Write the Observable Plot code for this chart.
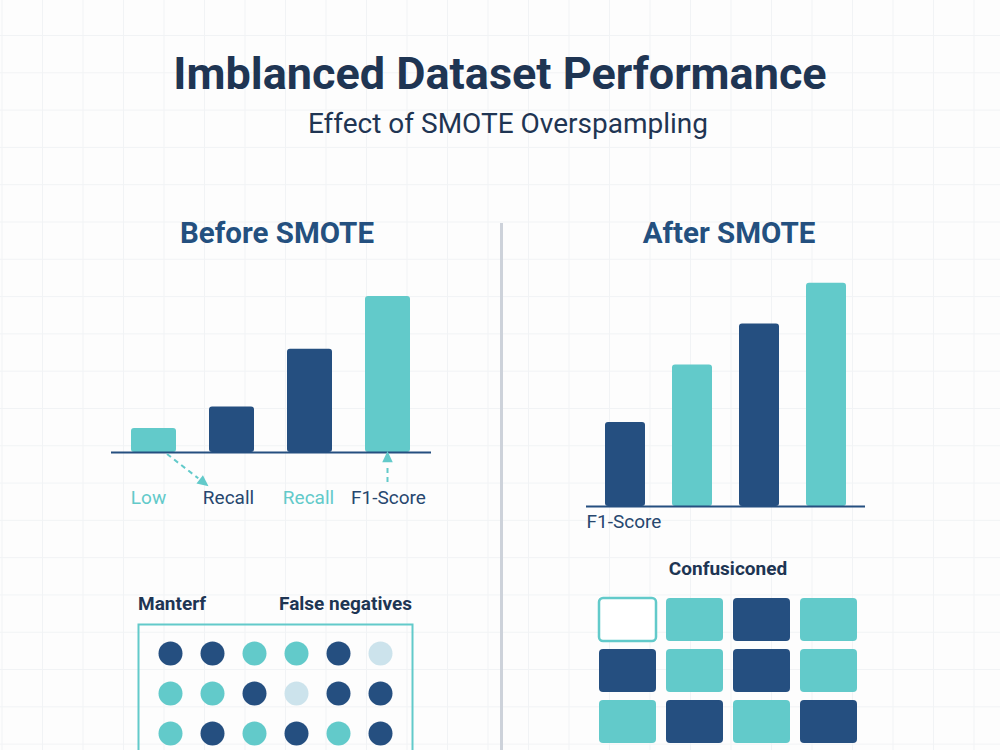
<!DOCTYPE html>
<html>
<head>
<meta charset="utf-8">
<script src="https://cdn.jsdelivr.net/npm/d3@7"></script>
<script src="https://cdn.jsdelivr.net/npm/@observablehq/plot@0.6"></script>
<style>
  html, body { margin: 0; padding: 0; width: 1000px; height: 750px; overflow: hidden; background: #fdfdfd; }
  #page {
    position: relative; width: 1000px; height: 750px; overflow: hidden;
    font-family: Roboto, "Open Sans", sans-serif;
    background-color: #fdfdfd;
    background-image:
      linear-gradient(to right, #f1f3f5 1px, transparent 1px),
      linear-gradient(to bottom, #f1f3f5 1px, transparent 1px);
    background-size: 40.5px 37.3px;
    background-position: 1.5px -2.3px;
  }
  .abs { position: absolute; }
  .title { left: 0; width: 1000px; text-align: center; top: 48px; line-height: 52px; font-size: 45px; font-weight: 700; color: #1f3553; }
  .subtitle { left: 8px; width: 1000px; text-align: center; top: 108px; line-height: 32px; font-size: 28px; font-weight: 400; color: #1f3553; }
  .panel { width: 460px; text-align: center; line-height: 36px; top: 215px; font-size: 29.5px; font-weight: 700; color: #24507f; }
  .small { line-height: 24px; font-size: 19px; font-weight: 700; color: #1e3553; }
  .divider { left: 500px; top: 223px; width: 3px; height: 530px; background: #cdd2da; }
  svg { display: block; }
</style>
</head>
<body>
<div id="page"></div>
<script>
// ---------- data ----------
const titleText = "Imblanced Dataset Performance";
const subtitleText = "Effect of SMOTE Overspampling";
const beforeTitle = "Before SMOTE";
const afterTitle = "After SMOTE";

const beforeKeys = ["b1", "b2", "b3", "b4"];
const beforeLabels = ["Low", "Recall", "Recall", "F1-Score"];
const beforeValues = [0.10, 0.19, 0.43, 0.65];
const beforeBarGroups = ["accent", "primary", "primary", "accent"];
const beforeLabelGroups = ["accent", "primary", "accent", "primary"];

const afterKeys = ["a1", "a2", "a3", "a4"];
const afterValues = [0.35, 0.59, 0.76, 0.93];
const afterBarGroups = ["primary", "accent", "primary", "accent"];
const afterAxisLabel = "F1-Score";

const dotsLeftHeader = "Manterf";
const dotsRightHeader = "False negatives";
const dotRows = [
  ["primary", "primary", "accent", "accent", "primary", "muted"],
  ["accent", "accent", "primary", "muted", "primary", "primary"],
  ["accent", "primary", "accent", "primary", "accent", "primary"]
];

const confusionTitle = "Confusiconed";
const confusionRows = [
  ["empty", "accent", "primary", "accent"],
  ["primary", "accent", "primary", "accent"],
  ["accent", "primary", "accent", "primary"]
];

// ---------- styles ----------
const NAVY = "#254f80";
const TEAL = "#62caca";
const LIGHT = "#cce3ec";
const LABEL_NAVY = "#27476f";
const colorScale = { type: "ordinal", domain: ["primary", "accent", "muted", "empty"], range: [NAVY, TEAL, LIGHT, "#ffffff"] };
const labelColor = { type: "ordinal", domain: ["primary", "accent"], range: [LABEL_NAVY, TEAL] };

const page = document.getElementById("page");
function addDiv(cls, text, style) {
  const d = document.createElement("div");
  d.className = "abs " + cls;
  d.textContent = text;
  Object.assign(d.style, style || {});
  page.appendChild(d);
  return d;
}
function place(node, left, top) {
  const w = document.createElement("div");
  w.className = "abs";
  w.style.left = left + "px";
  w.style.top = top + "px";
  w.appendChild(node);
  page.appendChild(w);
}

addDiv("title", titleText);
addDiv("subtitle", subtitleText);
addDiv("panel", beforeTitle, { left: "47px" });
addDiv("panel", afterTitle, { left: "499px" });
addDiv("divider", "");

// ---------- Before SMOTE bars ----------
const before = beforeKeys.map((k, i) => ({
  key: k, label: beforeLabels[i], value: beforeValues[i], bar: beforeBarGroups[i], lab: beforeLabelGroups[i]
}));

function arrowHead(g, x, y, angle, color) {
  const s = 7;
  const pts = [[s, 0], [-s * 0.6, -s * 0.75], [-s * 0.6, s * 0.75]].map(([px, py]) => [
    x + px * Math.cos(angle) - py * Math.sin(angle),
    y + px * Math.sin(angle) + py * Math.cos(angle)
  ]);
  g.append("polygon").attr("points", pts.map(p => p.join(",")).join(" ")).attr("fill", color);
}

function annotationArrows(index, scales) {
  const xs = scales.x, ys = scales.y;
  const bw = xs.bandwidth ? xs.bandwidth() : 0;
  const g = d3.create("svg:g");
  // arrow from the "Low" bar down to the "Recall" label
  const x1 = xs(beforeKeys[0]) + bw * 0.8, y1 = ys(0) + 2;
  const x2 = xs(beforeKeys[1]) - 6, y2 = ys(-0.125);
  const a1 = Math.atan2(y2 - y1, x2 - x1);
  g.append("line").attr("x1", x1).attr("y1", y1)
    .attr("x2", x2 - 6 * Math.cos(a1)).attr("y2", y2 - 6 * Math.sin(a1))
    .attr("stroke", TEAL).attr("stroke-width", 2).attr("stroke-dasharray", "5,4");
  arrowHead(g, x2, y2, a1, TEAL);
  // arrow from the "F1-Score" label up to its bar
  const x3 = xs(beforeKeys[3]) + bw / 2;
  const y3 = ys(-0.125), y4 = ys(-0.025);
  g.append("line").attr("x1", x3).attr("y1", y3).attr("x2", x3).attr("y2", y4 + 6)
    .attr("stroke", TEAL).attr("stroke-width", 2).attr("stroke-dasharray", "5,4");
  arrowHead(g, x3, y4, -Math.PI / 2, TEAL);
  return g.node();
}

const beforePlot = Plot.plot({
  width: 320, height: 300,
  marginTop: 0, marginBottom: 60, marginLeft: 0, marginRight: 0,
  x: { domain: beforeKeys, paddingInner: 0.42, paddingOuter: 0.26, axis: null },
  y: { domain: [0, 1], axis: null },
  color: colorScale,
  style: { background: "transparent", overflow: "visible", fontFamily: "Roboto, sans-serif" },
  marks: [
    Plot.barY(before, { x: "key", y: "value", fill: "bar", rx: 3 }),
    Plot.ruleY([0], { stroke: NAVY, strokeWidth: 2 }),
    annotationArrows
  ]
});
place(beforePlot, 111, 212);

// labels under the before bars (own plot so they can use their own colour mapping)
const beforeLabelPlot = Plot.plot({
  width: 320, height: 300,
  marginTop: 0, marginBottom: 60, marginLeft: 0, marginRight: 0,
  x: { domain: beforeKeys, paddingInner: 0.42, paddingOuter: 0.26, axis: null },
  y: { domain: [0, 1], axis: null },
  color: labelColor,
  style: { background: "transparent", overflow: "visible", fontFamily: "Roboto, sans-serif" },
  marks: [
    Plot.text(before, { x: "key", y: 0, text: "label", fill: "lab", dy: 45, dx: -3, fontSize: 19 })
  ]
});
place(beforeLabelPlot, 111, 212);

// ---------- After SMOTE bars ----------
const after = afterKeys.map((k, i) => ({ key: k, value: afterValues[i], bar: afterBarGroups[i] }));
const afterPlot = Plot.plot({
  width: 279, height: 275,
  marginTop: 0, marginBottom: 35, marginLeft: 0, marginRight: 0,
  x: { domain: afterKeys, paddingInner: 0.41, paddingOuter: 0.257, axis: null },
  y: { domain: [0, 1], axis: null },
  color: colorScale,
  style: { background: "transparent", overflow: "visible", fontFamily: "Roboto, sans-serif" },
  marks: [
    Plot.barY(after, { x: "key", y: "value", fill: "bar", rx: 3 }),
    Plot.ruleY([0], { stroke: NAVY, strokeWidth: 2 }),
    Plot.text([afterAxisLabel], { text: d => d, frameAnchor: "bottom-left", textAnchor: "start", dy: 21, fill: LABEL_NAVY, fontSize: 19 })
  ]
});
place(afterPlot, 586, 266);

// ---------- dot matrix ----------
addDiv("small", dotsLeftHeader, { left: "138px", top: "592px" });
addDiv("small", dotsRightHeader, { left: "200px", width: "212px", textAlign: "right", top: "592px" });
const dots = dotRows.flatMap((row, r) => row.map((g, c) => ({ r, c, g })));
const dotPlot = Plot.plot({
  width: 276, height: 140, margin: 1,
  x: { type: "point", domain: d3.range(dotRows[0].length), padding: 0.7, axis: null },
  y: { type: "point", domain: d3.range(dotRows.length), padding: 0.69, axis: null },
  color: colorScale,
  style: { background: "transparent", overflow: "visible" },
  marks: [
    Plot.frame({ stroke: TEAL, strokeWidth: 2 }),
    Plot.dot(dots, { x: "c", y: "r", fill: "g", r: 12 })
  ]
});
place(dotPlot, 137, 623);

// ---------- confusion grid ----------
addDiv("small", confusionTitle, { left: "594px", width: "268px", textAlign: "center", top: "557px" });
const cells = confusionRows.flatMap((row, r) => row.map((g, c) => ({ r, c, g })));
const cellInset = { insetLeft: 5, insetRight: 5, insetTop: 4, insetBottom: 4, rx: 4 };
const cellPlot = Plot.plot({
  width: 268, height: 153, margin: 0,
  x: { type: "band", domain: d3.range(confusionRows[0].length), padding: 0, axis: null },
  y: { type: "band", domain: d3.range(confusionRows.length), padding: 0, axis: null },
  color: colorScale,
  style: { background: "transparent", overflow: "visible" },
  marks: [
    Plot.cell(cells.filter(d => d.g !== "empty"), { x: "c", y: "r", fill: "g", ...cellInset }),
    Plot.cell(cells.filter(d => d.g === "empty"), { x: "c", y: "r", fill: "#ffffff", stroke: TEAL, strokeWidth: 2.5, ...cellInset })
  ]
});
place(cellPlot, 594, 594);
</script>
</body>
</html>
